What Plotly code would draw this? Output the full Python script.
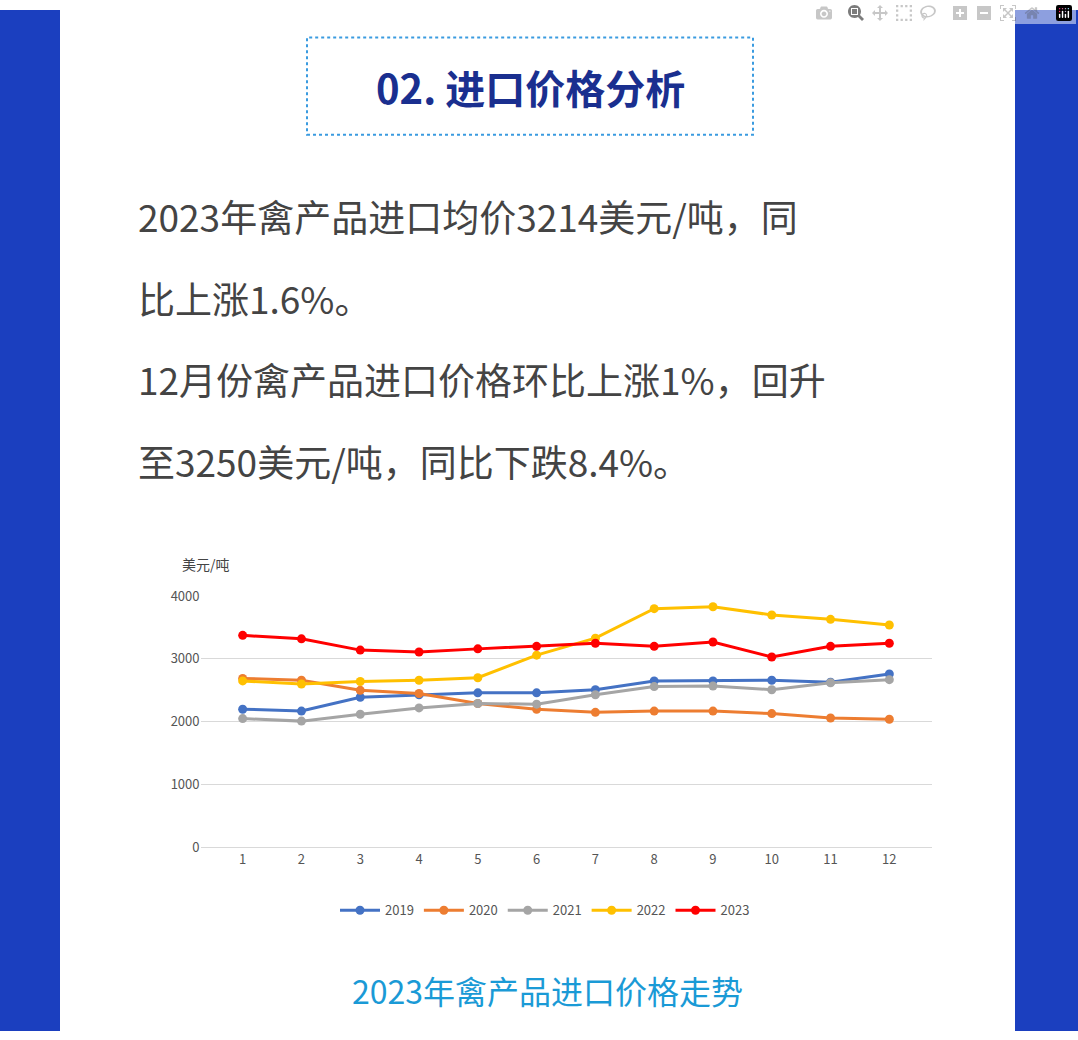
import plotly.graph_objects as go

months = [str(i) for i in range(1, 13)]
s2019 = [2200, 2170, 2390, 2430, 2460, 2460, 2510, 2650, 2650, 2660, 2630, 2760]
s2020 = [2690, 2660, 2500, 2450, 2290, 2200, 2150, 2170, 2170, 2130, 2060, 2040]
s2021 = [2050, 2010, 2120, 2220, 2290, 2280, 2430, 2560, 2570, 2510, 2620, 2670]
s2022 = [2650, 2600, 2640, 2660, 2700, 3060, 3330, 3800, 3830, 3700, 3630, 3540]
s2023 = [3375, 3320, 3140, 3110, 3160, 3200, 3250, 3200, 3270, 3030, 3200, 3250]
series = [("2019", s2019, "#4472c4"), ("2020", s2020, "#ed7d31"), ("2021", s2021, "#a5a5a5"),
          ("2022", s2022, "#ffc000"), ("2023", s2023, "#ff0000")]

W, H = 1078, 1040
def px(x): return x / W
def py(y): return 1 - y / H

fig = go.Figure()
for name, vals, col in series:
    fig.add_trace(go.Scatter(x=months, y=vals, name=name, mode="lines+markers",
                             line=dict(color=col, width=3), marker=dict(color=col, size=9)))

font = "Noto Sans CJK SC"
shapes = [
    dict(type="rect", xref="paper", yref="paper", x0=0, x1=1, y0=0, y1=1, fillcolor="#1b3fbf", line_width=0, layer="below"),
    dict(type="rect", xref="paper", yref="paper", x0=px(60), x1=px(1015), y0=0, y1=1, fillcolor="white", line_width=0, layer="below"),
    dict(type="rect", xref="paper", yref="paper", x0=px(307), x1=px(753), y0=py(127), y1=py(28),
         line=dict(color="#3a9be0", width=2, dash="dot"), layer="below"),
]
ann = [
    dict(text="<b>02. 进口价格分析</b>", x=px(530), y=py(78), font=dict(size=40, color="#1a2f8f")),
    dict(text="2023年禽产品进口均价3214美元/吨，同", x=px(136), y=py(210), xanchor="left", font=dict(size=37, color="#444")),
    dict(text="比上涨1.6%。", x=px(136), y=py(293), xanchor="left", font=dict(size=37, color="#444")),
    dict(text="12月份禽产品进口价格环比上涨1%，回升", x=px(136), y=py(376), xanchor="left", font=dict(size=37, color="#444")),
    dict(text="至3250美元/吨，同比下跌8.4%。", x=px(136), y=py(459), xanchor="left", font=dict(size=37, color="#444")),
    dict(text="美元/吨", x=px(180), y=py(564), xanchor="left", font=dict(size=14, color="#444")),
    dict(text="2023年禽产品进口价格走势", x=px(547), y=py(998), font=dict(size=32, color="#1a9ad6")),
]
for a in ann:
    a.update(xref="paper", yref="paper", showarrow=False, yanchor="middle", font=dict(family=font, **a["font"]))

fig.update_layout(
    width=W, height=H, margin=dict(l=0, r=0, t=0, b=0), paper_bgcolor="white", plot_bgcolor="white",
    shapes=shapes, annotations=ann, font=dict(family=font, color="#555"),
    xaxis=dict(domain=[px(200.5), px(931.5)], type="category", showgrid=False, showline=True,
               linecolor="#d9d9d9", ticks="", tickfont=dict(size=13, color="#555")),
    yaxis=dict(domain=[py(853), py(597)], range=[0, 4000], dtick=1000, gridcolor="#d9d9d9",
               zeroline=False, showline=False, tickfont=dict(size=13, color="#555"), anchor="x"),
    legend=dict(orientation="h", x=px(545), xanchor="center", y=py(917), yanchor="middle",
                font=dict(size=13, color="#555"), itemwidth=40),
    showlegend=True,
)
fig.write_html("out.html")
with open("out.html", encoding="utf-8") as f:
    html = f.read()
html = html.replace("<body>", '<body style="margin:0;overflow:hidden">', 1)
with open("out.html", "w", encoding="utf-8") as f:
    f.write(html)
